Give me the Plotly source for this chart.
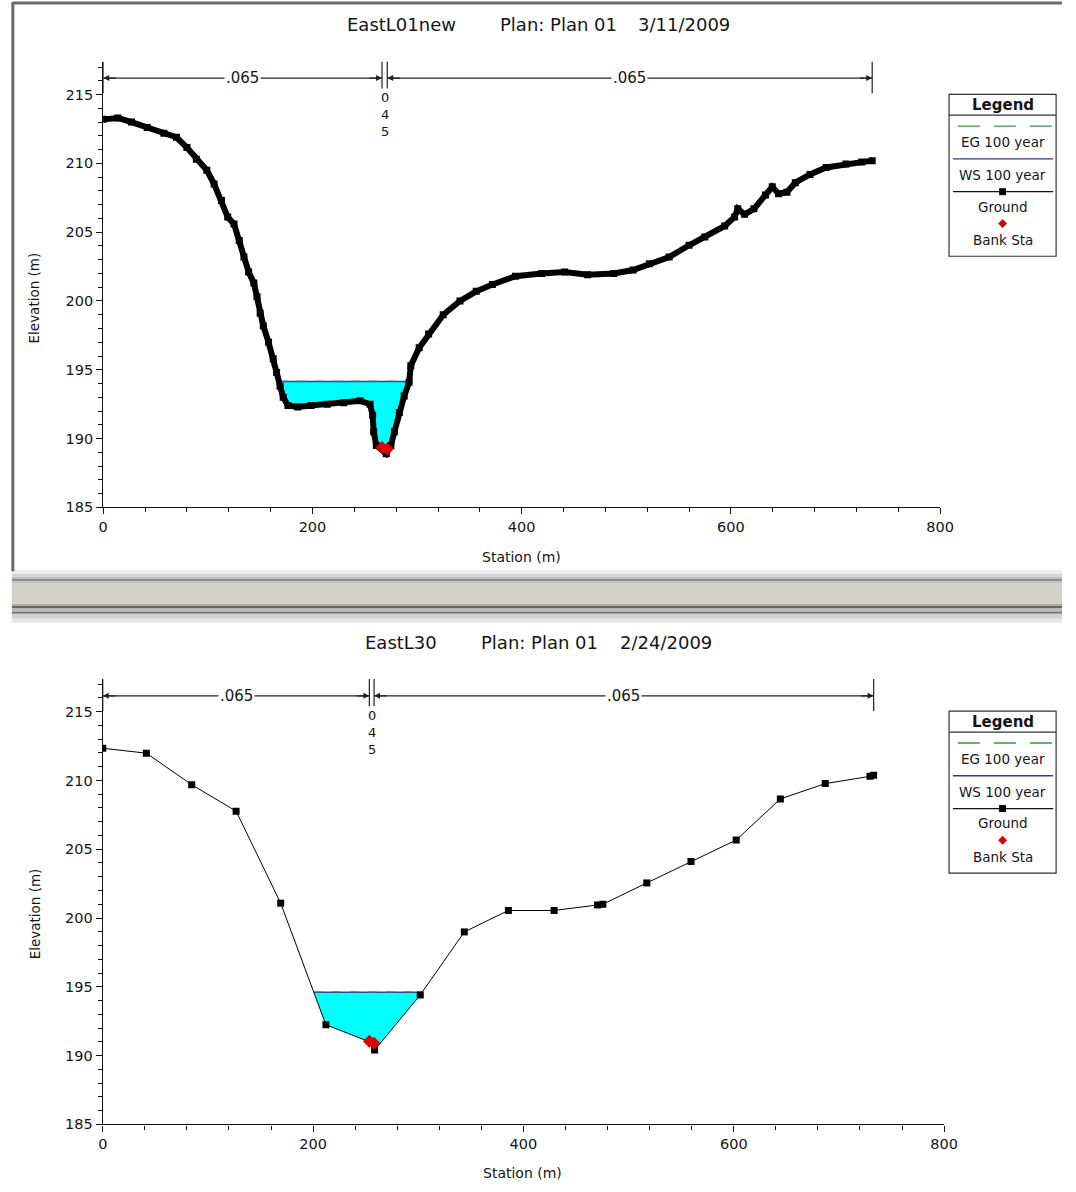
import numpy as np
import plotly.graph_objects as go

W, H = 1076, 1192
FONT = "DejaVu Sans"
TXT = "#151515"

# ---------------- data ----------------
top_title_parts = ["EastL01new", "Plan: Plan 01", "3/11/2009"]
bot_title_parts = ["EastL30", "Plan: Plan 01", "2/24/2009"]

top_station = [0, 14, 27, 42, 58, 70, 80, 89, 99, 106, 113, 119, 125, 130, 134.5, 139, 144, 147,
               150, 153, 158, 162.5, 165.7, 169, 172, 176.5, 186, 198.5, 214, 230, 245.5, 255,
               257.5, 258.5, 261, 270.5, 275, 278.3, 283, 287.7, 292.4, 294, 302, 311, 325, 341,
               356.5, 372, 394, 419, 441, 463, 488, 506.5, 522, 541, 560, 575, 594, 603.5, 606.5,
               613, 622, 633, 639.5, 645.5, 653.5, 661.5, 675.5, 691, 710, 725, 735]
top_elev = [213.2, 213.3, 213.0, 212.6, 212.2, 211.9, 211.15, 210.3, 209.5, 208.5, 207.3, 206.1,
            205.6, 204.4, 203.2, 202.1, 201.3, 200.3, 199.1, 198.2, 197.0, 195.8, 194.8, 193.8,
            193.0, 192.4, 192.3, 192.4, 192.5, 192.6, 192.75, 192.5, 191.7, 190.5, 189.5, 188.9,
            189.5, 190.5, 191.9, 193.1, 194.1, 195.3, 196.6, 197.6, 199.0, 200.0, 200.7, 201.2,
            201.8, 202.0, 202.1, 201.9, 202.0, 202.25, 202.7, 203.2, 204.05, 204.65, 205.45, 206.1,
            206.7, 206.3, 206.7, 207.7, 208.3, 207.8, 207.9, 208.6, 209.2, 209.7, 209.95, 210.1, 210.2]
top_bank_sta = [266.5, 271.5]
top_bank_elev = [189.35, 189.25]
top_ws = 194.15
top_eg = 194.17

bot_station = [0, 41.5, 84.6, 126.8, 169.2, 212.2, 255.5, 258.5, 301.9, 343.8, 385.7, 429.2,
               470.5, 475.5, 517.3, 559.3, 602.3, 644.3, 687.0, 729.5, 733.0]
bot_elev = [212.34, 211.98, 209.69, 207.77, 201.08, 192.24, 190.95, 190.4, 194.41, 198.99, 200.55,
            200.55, 200.95, 201.0, 202.55, 204.11, 205.67, 208.66, 209.77, 210.3, 210.38]
bot_bank_sta = [253.5, 258.0]
bot_bank_elev = [191.05, 190.9]
bot_ws = 194.6
bot_eg = 194.62

n_values = [".065", ".045", ".065"]
legend_labels = ["EG 100 year", "WS 100 year", "Ground", "Bank Sta"]
x_ticks = [0, 200, 400, 600, 800]
y_ticks = [185, 190, 195, 200, 205, 210, 215]

# ---------------- helpers ----------------
def px(x):
    return x / W


def py(y):
    return 1 - y / H


def water_polygon(st, el, ws):
    st = np.asarray(st, float)
    el = np.asarray(el, float)
    i0 = int(np.argmin(el))
    l = i0
    while l > 0 and el[l - 1] < ws:
        l -= 1
    r = i0
    while r < len(el) - 1 and el[r + 1] < ws:
        r += 1
    xl = st[l - 1] + (ws - el[l - 1]) * (st[l] - st[l - 1]) / (el[l] - el[l - 1])
    xr = st[r] + (ws - el[r]) * (st[r + 1] - st[r]) / (el[r + 1] - el[r])
    xs = [xl] + list(st[l:r + 1]) + [xr, xl]
    ys = [ws] + list(el[l:r + 1]) + [ws, ws]
    return xs, ys, xl, xr


def paper_text(x, y, text, size, **kw):
    d = dict(x=px(x), y=py(y), xref="paper", yref="paper", text=text, showarrow=False,
             xanchor="center", yanchor="middle", font=dict(family=FONT, size=size, color=TXT))
    d.update(kw)
    return d


fig = go.Figure()
shapes = []
annotations = []

panels = [
    dict(st=top_station, el=top_elev, bs=top_bank_sta, be=top_bank_elev, ws=top_ws, eg=top_eg,
         xa="x", ya="y", lw=6, title=top_title_parts, ty=25, tx=[404, 563, 691],
         br=216.2, yr=[185, 217.4], dy=0),
    dict(st=bot_station, el=bot_elev, bs=bot_bank_sta, be=bot_bank_elev, ws=bot_ws, eg=bot_eg,
         xa="x2", ya="y2", lw=1, title=bot_title_parts, ty=647, tx=[403, 544, 673],
         br=216.15, yr=[185, 217.38], dy=621),
]

for i, p in enumerate(panels):
    xs, ys, xl, xr = water_polygon(p["st"], p["el"], p["ws"])
    fig.add_trace(go.Scatter(x=xs, y=ys, mode="lines", fill="toself", fillcolor="#00FFFF",
                             line=dict(width=0, color="#00FFFF"), xaxis=p["xa"], yaxis=p["ya"],
                             showlegend=False, hoverinfo="skip"))
    fig.add_trace(go.Scatter(x=[xl, xr], y=[p["ws"], p["ws"]], mode="lines",
                             line=dict(color="#2b4a9c", width=1.6), xaxis=p["xa"], yaxis=p["ya"],
                             name=legend_labels[1], showlegend=False))
    fig.add_trace(go.Scatter(x=[xl, xr], y=[p["eg"], p["eg"]], mode="lines",
                             line=dict(color="#2f7f3f", width=1, dash="dash"), xaxis=p["xa"],
                             yaxis=p["ya"], name=legend_labels[0], showlegend=False))
    fig.add_trace(go.Scatter(x=p["st"], y=p["el"], mode="lines+markers",
                             line=dict(color="#000000", width=p["lw"]),
                             marker=dict(symbol="square", size=7, color="#000000"),
                             xaxis=p["xa"], yaxis=p["ya"], name=legend_labels[2], showlegend=False))
    fig.add_trace(go.Scatter(x=p["bs"], y=p["be"], mode="markers",
                             marker=dict(symbol="diamond", size=10, color="#e00000"),
                             xaxis=p["xa"], yaxis=p["ya"], name=legend_labels[3], showlegend=False))

    # Manning's n bracket
    xref, yref = p["xa"], p["ya"]
    s0, s1 = p["st"][0], p["st"][-1]
    bl, brs = p["bs"]
    b = p["br"]
    top = p["yr"][1]
    for (a, c) in [(s0, bl), (brs, s1)]:
        shapes.append(dict(type="line", xref=xref, yref=yref, x0=a, x1=c, y0=b, y1=b,
                           line=dict(color="#222", width=1.2)))
    for xv, low in [(s0, b - 1.1), (s1, b - 1.1), (bl, b - 0.75), (brs, b - 0.75)]:
        shapes.append(dict(type="line", xref=xref, yref=yref, x0=xv, x1=xv, y0=low, y1=top,
                           line=dict(color="#222", width=1.2)))
    for xv, axp in [(s0, 14), (bl, -14), (brs, 14), (s1, -14)]:
        annotations.append(dict(x=xv, y=b, xref=xref, yref=yref, ax=axp, ay=0, text="",
                                showarrow=True, arrowhead=2, arrowsize=1, arrowwidth=1.2,
                                arrowcolor="#222", standoff=0))
    annotations.append(dict(x=(s0 + bl) / 2, y=b, xref=xref, yref=yref, text=n_values[0],
                            showarrow=False, bgcolor="white", xanchor="center", yanchor="middle",
                            font=dict(family=FONT, size=15, color=TXT)))
    annotations.append(dict(x=(brs + s1) / 2, y=b, xref=xref, yref=yref, text=n_values[2],
                            showarrow=False, bgcolor="white", xanchor="center", yanchor="middle",
                            font=dict(family=FONT, size=15, color=TXT)))
    annotations.append(dict(x=(bl + brs) / 2, y=b - 0.75, xref=xref, yref=yref,
                            text="<br>".join(list(n_values[1].replace(".", ""))),
                            showarrow=False, yanchor="top", xanchor="center",
                            font=dict(family=FONT, size=13, color=TXT)))

    # titles
    for part, tx in zip(p["title"], p["tx"]):
        annotations.append(paper_text(tx, p["ty"], part, 18))

    # legend box
    d = p["dy"]
    lx0, lx1 = 961, 1070
    cx = (lx0 + lx1) / 2
    shapes.append(dict(type="rect", xref="paper", yref="paper", x0=px(lx0), x1=px(lx1),
                       y0=py(258 + d), y1=py(95 + d), line=dict(color="#333", width=1.2),
                       fillcolor="white"))
    shapes.append(dict(type="line", xref="paper", yref="paper", x0=px(lx0), x1=px(lx1),
                       y0=py(116 + d), y1=py(116 + d), line=dict(color="#333", width=1.2)))
    annotations.append(paper_text(cx, 105.5 + d, "<b>Legend</b>", 15))
    shapes.append(dict(type="line", xref="paper", yref="paper", x0=px(lx0 + 9), x1=px(lx1 - 3),
                       y0=py(127 + d), y1=py(127 + d),
                       line=dict(color="#339944", width=1.3, dash="22px,14px")))
    shapes.append(dict(type="line", xref="paper", yref="paper", x0=px(lx0 + 4), x1=px(lx1 - 3),
                       y0=py(160 + d), y1=py(160 + d), line=dict(color="#353590", width=1.3)))
    shapes.append(dict(type="line", xref="paper", yref="paper", x0=px(lx0 + 4), x1=px(lx1 - 3),
                       y0=py(193 + d), y1=py(193 + d), line=dict(color="#111", width=1.3)))
    shapes.append(dict(type="rect", xref="paper", yref="paper", x0=px(cx - 3.5), x1=px(cx + 3.5),
                       y0=py(196.5 + d), y1=py(189.5 + d), fillcolor="#000", line=dict(width=0)))
    shapes.append(dict(type="path", xref="paper", yref="paper",
                       path="M {} {} L {} {} L {} {} L {} {} Z".format(
                           px(cx), py(220.5 + d), px(cx + 4.5), py(225 + d),
                           px(cx), py(229.5 + d), px(cx - 4.5), py(225 + d)),
                       fillcolor="#e00000", line=dict(width=0)))
    for lab, yy in zip(legend_labels, [143, 176, 208, 242]):
        annotations.append(paper_text(cx, yy + d, lab, 13.5))

# axis titles
for yy_center in (300, 920):
    annotations.append(paper_text(30, yy_center, "Elevation (m)", 13.5, textangle=-90))
annotations.append(paper_text(526, 561, "Station (m)", 14))
annotations.append(paper_text(527, 1181, "Station (m)", 14))

# top panel frame and separator band
shapes.append(dict(type="line", xref="paper", yref="paper", x0=px(8), x1=px(8), y0=py(2), y1=py(575),
                   line=dict(color="#6a6a6a", width=3)))
shapes.append(dict(type="line", xref="paper", yref="paper", x0=px(8), x1=1, y0=py(3), y1=py(3),
                   line=dict(color="#6a6a6a", width=3)))
band = [(574, 578, "#ebebeb"), (578, 581, "#d6d6d6"), (581, 583, "#bdbdbd"), (583, 585, "#8e8e8e"),
        (585, 587, "#c8c4bc"), (587, 608, "#d5d1c9"), (608, 610, "#b0aca4"), (610, 612.5, "#666666"),
        (612.5, 616, "#bbbbbb"), (616, 618, "#707070"), (618, 623, "#d0d0d0"), (623, 627, "#e6e6e6")]
for y0, y1, col in band:
    shapes.append(dict(type="rect", xref="paper", yref="paper", x0=px(7), x1=1,
                       y0=py(y1), y1=py(y0), fillcolor=col, line=dict(width=0), layer="below"))

axis_common = dict(showgrid=False, zeroline=False, showline=True, linecolor="#111", linewidth=1.2,
                   ticks="outside", ticklen=6, tickwidth=1.2, tickcolor="#111",
                   tickfont=dict(family=FONT, size=14.5, color=TXT))

fig.update_layout(
    width=W, height=H, margin=dict(l=0, r=0, t=0, b=0), autosize=False,
    paper_bgcolor="white", plot_bgcolor="white", showlegend=False,
    xaxis=dict(domain=[px(100), px(952)], range=[0, 800], anchor="y", tickvals=x_ticks,
               minor=dict(dtick=40, tick0=0, ticks="outside", ticklen=4, tickcolor="#111"),
               **axis_common),
    yaxis=dict(domain=[py(510.8), py(62)], range=[185, 217.4], anchor="x", tickvals=y_ticks,
               minor=dict(dtick=1, tick0=185, ticks="outside", ticklen=4, tickcolor="#111"),
               **axis_common),
    xaxis2=dict(domain=[px(99.5), px(956)], range=[0, 800], anchor="y2", tickvals=x_ticks,
                minor=dict(dtick=40, tick0=0, ticks="outside", ticklen=4, tickcolor="#111"),
                **axis_common),
    yaxis2=dict(domain=[py(1132), py(683.5)], range=[185, 217.38], anchor="x2", tickvals=y_ticks,
                minor=dict(dtick=1, tick0=185, ticks="outside", ticklen=4, tickcolor="#111"),
                **axis_common),
    shapes=shapes, annotations=annotations,
)

fig.write_html("out.html")
